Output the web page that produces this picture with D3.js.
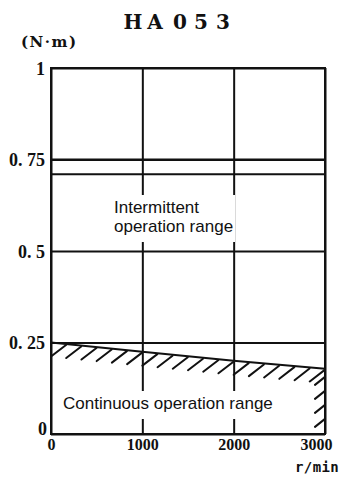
<!DOCTYPE html>
<html>
<head>
<meta charset="utf-8">
<script src="https://cdn.jsdelivr.net/npm/d3@7"></script>
<style>
  html, body { margin: 0; padding: 0; background: #fff; }
  svg { display: block; }
</style>
</head>
<body>
<svg id="chart" width="342" height="480"></svg>
<script>
// Speed axis (r/min) and torque axis (N·m)
const speedTicks = [0, 1000, 2000, 3000];
const speedTickLabels = ["0", "1000", "2000", "3000"];
const torqueTicks = [0, 0.25, 0.5, 0.75, 1];
const torqueTickLabels = ["0", "0. 25", "0. 5", "0. 75", "1"];

// Intermittent range boundaries (horizontal limit lines)
const intermittentLimits = [0.75, 0.71];

// Continuous operation limit curve
const continuousSpeed = [0, 1000, 2000, 3000];
const continuousTorque = [0.25, 0.225, 0.2, 0.178];

const svg = d3.select("#chart");
const W = 342, H = 480;
const plotL = 51, plotR = 325, plotT = 68, plotB = 434;

const x = d3.scaleLinear().domain([0, 3000]).range([plotL, plotR]);
const y = d3.scaleLinear().domain([0, 1]).range([plotB, plotT]);

svg.append("rect").attr("width", W).attr("height", H).attr("fill", "#fff");

const ink = "#111";

// Grid lines
const gridX = svg.append("g")
  .attr("transform", `translate(0,${plotB})`)
  .call(d3.axisBottom(x).tickValues(speedTicks).tickSize(-(plotB - plotT)).tickFormat(""));
gridX.select(".domain").remove();
gridX.selectAll("line").attr("stroke", ink).attr("stroke-width", 2);

const gridY = svg.append("g")
  .attr("transform", `translate(${plotL},0)`)
  .call(d3.axisLeft(y).tickValues(torqueTicks).tickSize(-(plotR - plotL)).tickFormat(""));
gridY.select(".domain").remove();
gridY.selectAll("line").attr("stroke", ink).attr("stroke-width", 2);

// Intermittent limit lines
svg.append("g").selectAll("line")
  .data(intermittentLimits)
  .join("line")
  .attr("x1", x(0)).attr("x2", x(3000))
  .attr("y1", d => y(d)).attr("y2", d => y(d))
  .attr("stroke", ink).attr("stroke-width", 2);

// Frame
svg.append("rect")
  .attr("x", plotL).attr("y", plotT)
  .attr("width", plotR - plotL).attr("height", plotB - plotT)
  .attr("fill", "none").attr("stroke", ink).attr("stroke-width", 2);

// Continuous limit curve
const curvePts = continuousSpeed.map((s, i) => [s, continuousTorque[i]]);
const curveAt = d3.scaleLinear().domain(continuousSpeed).range(continuousTorque);

svg.append("defs").append("clipPath").attr("id", "plotClip")
  .append("rect").attr("x", plotL).attr("y", plotT)
  .attr("width", plotR - plotL).attr("height", plotB - plotT);

const hatch = svg.append("g").attr("clip-path", "url(#plotClip)")
  .attr("stroke", ink).attr("stroke-width", 2).attr("stroke-linecap", "round");

// Hatching under the curve
const bandStarts = d3.range(0, 2950, 3000 / 18);
hatch.selectAll("line.band")
  .data(bandStarts)
  .join("line")
  .attr("class", "band")
  .attr("x1", d => x(d))
  .attr("y1", d => y(curveAt(d)) + 14)
  .attr("x2", d => x(d) + 15)
  .attr("y2", d => y(curveAt(x.invert(x(d) + 15))) + 1);

// Hatching along the right edge
const edgeStart = y(curveAt(3000)) + 16;
const edgeYs = d3.range(edgeStart, plotB + 1, 14);
hatch.selectAll("line.edge")
  .data(edgeYs)
  .join("line")
  .attr("class", "edge")
  .attr("x1", plotR - 10).attr("y1", d => d)
  .attr("x2", plotR).attr("y2", d => d - 8);

svg.append("path")
  .datum(curvePts)
  .attr("d", d3.line().x(d => x(d[0])).y(d => y(d[1])))
  .attr("fill", "none").attr("stroke", ink).attr("stroke-width", 2);

// Region labels with a white backing that breaks the grid lines
function regionLabel(lines, cx, baseline, lineGap) {
  const g = svg.append("g");
  const bg = g.append("rect").attr("fill", "#fff");
  const t = g.append("text")
    .attr("font-family", "'Liberation Sans', Arial, sans-serif")
    .attr("font-size", 17)
    .attr("fill", ink);
  lines.forEach((s, i) => {
    t.append("tspan").attr("x", cx).attr("y", baseline + i * lineGap).text(s);
  });
  const b = t.node().getBBox();
  bg.attr("x", b.x - 2).attr("y", b.y - 3)
    .attr("width", b.width + 4).attr("height", b.height + 9);
}
regionLabel(["Intermittent", "operation range"], 114, 213, 19);
regionLabel(["Continuous operation range"], 63, 409, 0);

// Y axis labels
const yAxis = svg.append("g")
  .attr("transform", `translate(${plotL},0)`)
  .call(d3.axisLeft(y).tickValues(torqueTicks).tickSize(0).tickPadding(6)
    .tickFormat((d, i) => torqueTickLabels[i]));
yAxis.select(".domain").remove();
yAxis.selectAll("text")
  .attr("font-family", "'Liberation Serif', 'Times New Roman', serif")
  .attr("font-weight", "bold")
  .attr("font-size", 18)
  .attr("fill", ink)
  .attr("dy", d => d === 0 ? "0em" : "0.34em")
  .attr("x", d => d === 0 ? -4 : -6);

// X axis labels
const xAxis = svg.append("g")
  .attr("transform", `translate(0,${plotB})`)
  .call(d3.axisBottom(x).tickValues(speedTicks).tickSize(0).tickPadding(5)
    .tickFormat((d, i) => speedTickLabels[i]));
xAxis.select(".domain").remove();
xAxis.selectAll("text")
  .attr("font-family", "'Liberation Serif', 'Times New Roman', serif")
  .attr("font-weight", "bold")
  .attr("font-size", 16)
  .attr("fill", ink)
  .attr("dx", d => d === 3000 ? -9 : 0);

// Title and units
svg.append("text")
  .attr("x", "133 155 180 201 223")
  .attr("y", 29)
  .attr("text-anchor", "middle")
  .attr("font-family", "'DejaVu Serif', serif")
  .attr("font-weight", "bold")
  .attr("font-size", 20)
  .attr("fill", ink)
  .text("HA053");

svg.append("text")
  .attr("x", 21).attr("y", 47)
  .attr("font-family", "'DejaVu Serif', serif")
  .attr("font-weight", "bold")
  .attr("font-size", 15)
  .attr("letter-spacing", 1.5)
  .attr("fill", ink)
  .text("(N·m)");

svg.append("text")
  .attr("x", 295).attr("y", 472)
  .attr("font-family", "'DejaVu Sans Mono', monospace")
  .attr("font-weight", "bold")
  .attr("font-size", 14)
  .attr("letter-spacing", 0.4)
  .attr("fill", ink)
  .text("r/min");
</script>
</body>
</html>
